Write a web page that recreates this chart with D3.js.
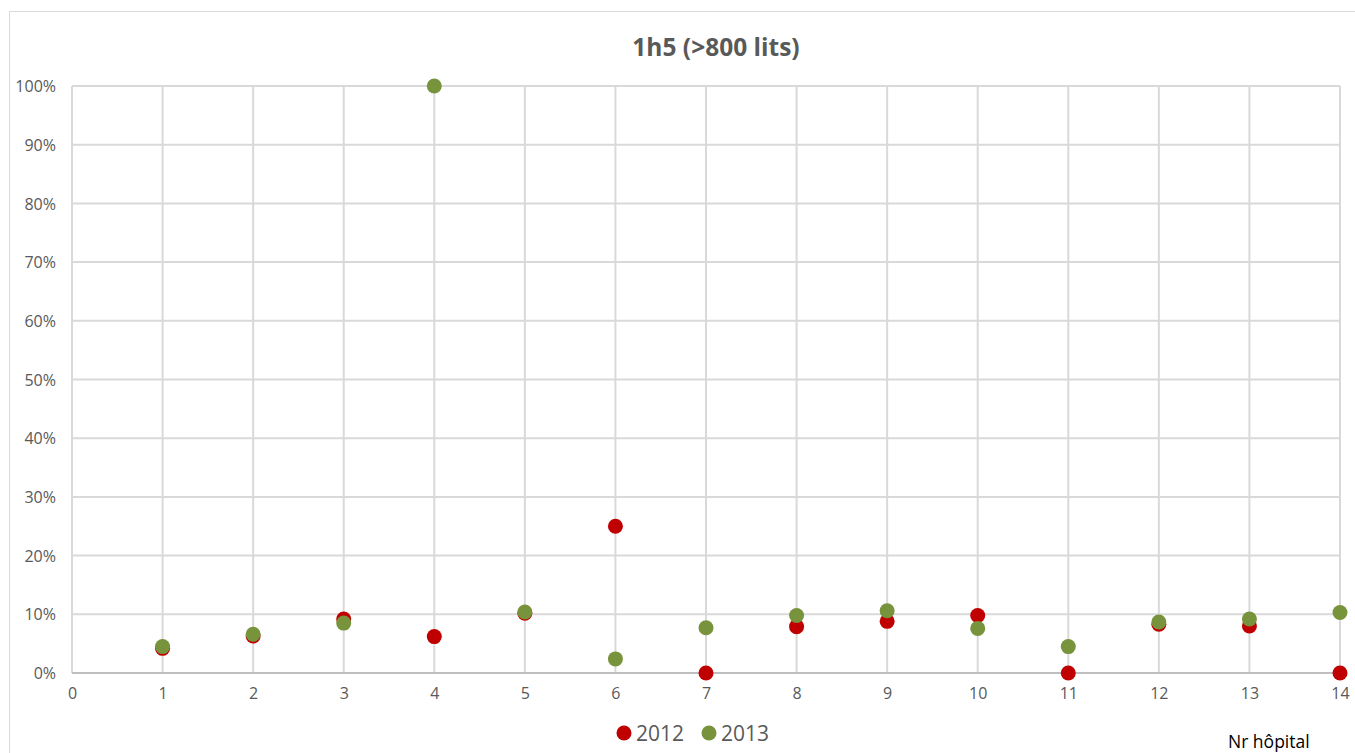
<!DOCTYPE html>
<html>
<head>
<meta charset="utf-8">
<script src="https://cdn.jsdelivr.net/npm/d3@7"></script>
<style>
  html, body { margin: 0; padding: 0; background: #ffffff; }
  svg { display: block; }
  text { font-family: "Open Sans", "Liberation Sans", sans-serif; }
</style>
</head>
<body>
<svg id="chart" width="1355" height="753"></svg>
<script>
// Hospital number on the x axis, share of cases per year on the y axis
const hospitals = [1, 2, 3, 4, 5, 6, 7, 8, 9, 10, 11, 12, 13, 14];
const values2012 = [0.042, 0.063, 0.092, 0.062, 0.102, 0.250, 0.000, 0.079, 0.088, 0.098, 0.000, 0.083, 0.080, 0.000];
const values2013 = [0.045, 0.066, 0.085, 1.000, 0.104, 0.024, 0.077, 0.098, 0.106, 0.076, 0.045, 0.087, 0.092, 0.103];
const seriesNames = ["2012", "2013"];
const seriesColors = ["#c00000", "#77933c"];
const xTicks = d3.range(0, 15);
const yTicks = d3.range(0, 1.0001, 0.1);
const chartTitle = "1h5 (>800 lits)";
const xAxisTitle = "Nr hôpital";

const svg = d3.select("#chart");

// outer chart frame (runs past the right and bottom edges)
svg.append("rect")
  .attr("x", 9.5).attr("y", 11.5)
  .attr("width", 1400).attr("height", 800)
  .attr("fill", "none").attr("stroke", "#d9d9d9").attr("stroke-width", 1);

const plot = { left: 72, right: 1340, top: 86, bottom: 673 };

const x = d3.scaleLinear().domain([0, 14]).range([plot.left, plot.right]);
const y = d3.scaleLinear().domain([0, 1]).range([plot.bottom, plot.top]);

// horizontal gridlines
svg.append("g")
  .selectAll("line")
  .data(yTicks.slice(1))
  .join("line")
  .attr("x1", plot.left).attr("x2", plot.right)
  .attr("y1", d => y(d)).attr("y2", d => y(d))
  .attr("stroke", "#d9d9d9").attr("stroke-width", 2);

// vertical gridlines
svg.append("g")
  .selectAll("line")
  .data(xTicks)
  .join("line")
  .attr("x1", d => x(d)).attr("x2", d => x(d))
  .attr("y1", plot.top).attr("y2", plot.bottom)
  .attr("stroke", "#d9d9d9").attr("stroke-width", 2);

// x axis line
svg.append("line")
  .attr("x1", plot.left).attr("x2", plot.right)
  .attr("y1", y(0)).attr("y2", y(0))
  .attr("stroke", "#bfbfbf").attr("stroke-width", 2);

// y axis labels
const yAxis = d3.axisLeft(y).tickValues(yTicks).tickFormat(d3.format(".0%")).tickSize(0).tickPadding(16);
const gy = svg.append("g").attr("transform", `translate(${plot.left},0)`).call(yAxis);
gy.select(".domain").remove();
gy.selectAll("text")
  .attr("fill", "#595959").attr("font-size", 16).attr("dy", "0.35em");

// x axis labels
const xAxis = d3.axisBottom(x).tickValues(xTicks).tickFormat(d3.format("d")).tickSize(0).tickPadding(15);
const gx = svg.append("g").attr("transform", `translate(0,${plot.bottom})`).call(xAxis);
gx.select(".domain").remove();
gx.selectAll("text")
  .attr("fill", "#595959").attr("font-size", 16);

// data points
const series = [values2012, values2013];
series.forEach((vals, i) => {
  svg.append("g")
    .selectAll("circle")
    .data(hospitals.map((h, j) => ({ h, v: vals[j] })))
    .join("circle")
    .attr("cx", d => x(d.h))
    .attr("cy", d => y(d.v))
    .attr("r", 7.5)
    .attr("fill", seriesColors[i]);
});

// title
svg.append("text")
  .attr("x", 716).attr("y", 56)
  .attr("text-anchor", "middle")
  .attr("font-size", 24.5).attr("font-weight", "bold")
  .attr("fill", "#595959")
  .text(chartTitle);

// legend
const legendItems = [{ cx: 624, tx: 636 }, { cx: 709, tx: 721 }];
legendItems.forEach((it, i) => {
  svg.append("circle")
    .attr("cx", it.cx).attr("cy", 733).attr("r", 7.5)
    .attr("fill", seriesColors[i]);
  svg.append("text")
    .attr("x", it.tx).attr("y", 741)
    .attr("font-size", 21).attr("fill", "#595959")
    .text(seriesNames[i]);
});

// x axis title
svg.append("text")
  .attr("x", 1228).attr("y", 748)
  .attr("font-size", 17.5).attr("fill", "#000000")
  .text(xAxisTitle);
</script>
</body>
</html>
